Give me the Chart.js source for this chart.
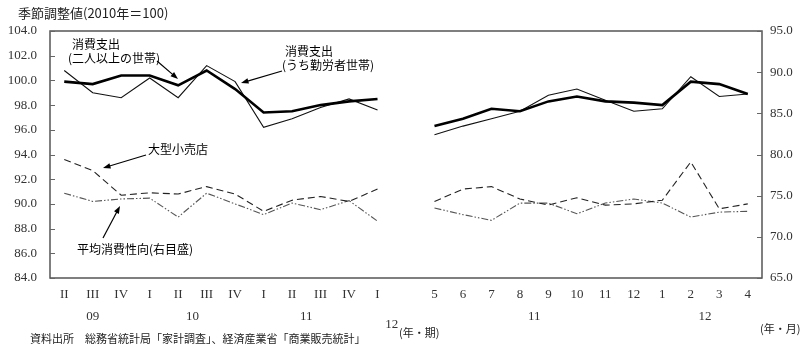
<!DOCTYPE html>
<html>
<head>
<meta charset="utf-8">
<script src="https://cdn.jsdelivr.net/npm/chart.js@4"></script>
<style>
  body { margin: 0; background: #fff; }
  #wrap { width: 800px; height: 350px; }
</style>
</head>
<body>
<div id="wrap"><canvas id="chart" width="800" height="350"></canvas></div>
<script>
// categories: 2009 II .. 2012 I (quarters), one blank slot, then 2011/5 .. 2012/4 (months)
const periodLabels = ['II', 'III', 'IV', 'I', 'II', 'III', 'IV', 'I', 'II', 'III', 'IV', 'I', '',
    '5', '6', '7', '8', '9', '10', '11', '12', '1', '2', '3', '4'];

// year labels, each centred over a range of category indexes
const yearLabels = ['09', '10', '11', '12', '11', '12'];
const yearFrom = [0, 3, 7, 11, 13, 21];
const yearTo = [2, 6, 10, 12, 20, 24];

const spendingAll = [99.9, 99.7, 100.4, 100.4, 99.6, 100.8, 99.3, 97.4, 97.5, 98.0, 98.3, 98.5, null,
    96.3, 96.9, 97.7, 97.5, 98.3, 98.7, 98.3, 98.2, 98.0, 99.9, 99.7, 98.9];
const spendingWorkers = [100.8, 99.0, 98.6, 100.2, 98.6, 101.2, 99.9, 96.2, 96.9, 97.8, 98.5, 97.6, null,
    95.6, 96.3, 96.9, 97.5, 98.8, 99.3, 98.4, 97.5, 97.7, 100.3, 98.7, 98.9];
const largeRetail = [93.6, 92.7, 90.7, 90.9, 90.8, 91.4, 90.8, 89.4, 90.3, 90.6, 90.2, 91.2, null,
    90.2, 91.2, 91.4, 90.4, 89.9, 90.5, 89.9, 90.0, 90.3, 93.4, 89.6, 90.0];
const propensity = [75.3, 74.3, 74.6, 74.7, 72.4, 75.3, 74.0, 72.7, 74.1, 73.3, 74.4, 71.9, null,
    73.5, 72.7, 72.0, 74.1, 74.1, 72.8, 74.1, 74.6, 74.1, 72.4, 73.0, 73.1];

const jpFont = '"Noto Sans CJK JP", sans-serif';
const numFont = '"Liberation Serif", "DejaVu Serif", serif';

function arrow(ctx, x1, y1, x2, y2) {
    const ang = Math.atan2(y2 - y1, x2 - x1);
    ctx.beginPath();
    ctx.moveTo(x1, y1);
    ctx.lineTo(x2 - 6 * Math.cos(ang), y2 - 6 * Math.sin(ang));
    ctx.stroke();
    ctx.beginPath();
    ctx.moveTo(x2, y2);
    ctx.lineTo(x2 - 8 * Math.cos(ang - 0.35), y2 - 8 * Math.sin(ang - 0.35));
    ctx.lineTo(x2 - 8 * Math.cos(ang + 0.35), y2 - 8 * Math.sin(ang + 0.35));
    ctx.closePath();
    ctx.fill();
}

const framePlugin = {
    id: 'frameAndNotes',
    afterDraw(chart) {
        const { ctx, chartArea: a, scales } = chart;
        ctx.save();

        // box around plot
        ctx.strokeStyle = '#555';
        ctx.lineWidth = 1.5;
        ctx.strokeRect(a.left, a.top, a.right - a.left, a.bottom - a.top);

        // short inward ticks
        ctx.lineWidth = 1;
        ctx.strokeStyle = '#666';
        scales.y.ticks.forEach(t => {
            const py = Math.round(scales.y.getPixelForValue(t.value)) + 0.5;
            ctx.beginPath(); ctx.moveTo(a.left, py); ctx.lineTo(a.left + 5, py); ctx.stroke();
        });
        scales.y1.ticks.forEach(t => {
            const py = Math.round(scales.y1.getPixelForValue(t.value)) + 0.5;
            ctx.beginPath(); ctx.moveTo(a.right - 5, py); ctx.lineTo(a.right, py); ctx.stroke();
        });

        // year row
        ctx.fillStyle = '#333';
        ctx.font = '13px ' + numFont;
        ctx.textAlign = 'center';
        ctx.textBaseline = 'middle';
        yearLabels.forEach((lab, i) => {
            const px = (scales.x.getPixelForValue(yearFrom[i]) + scales.x.getPixelForValue(yearTo[i])) / 2;
            ctx.fillText(lab, px, i === 3 ? 325 : 317);
        });

        // title, units, source
        ctx.fillStyle = '#222';
        ctx.textAlign = 'left';
        ctx.font = '13px ' + jpFont;
        ctx.fillText('季節調整値(2010年＝100)', 18, 13);
        ctx.font = '11px ' + jpFont;
        ctx.fillText('(年・期)', 399, 333);
        ctx.fillText('(年・月)', 760, 329);
        ctx.fillText('資料出所　総務省統計局「家計調査」、経済産業省「商業販売統計」', 30, 339);

        // series notes
        ctx.fillStyle = '#000';
        ctx.font = '12px ' + jpFont;
        ctx.fillText('消費支出', 72, 44);
        ctx.fillText('(二人以上の世帯)', 68, 58);
        ctx.fillText('消費支出', 285, 51);
        ctx.fillText('(うち勤労者世帯)', 282, 65);
        ctx.fillText('大型小売店', 148, 149);
        ctx.fillText('平均消費性向(右目盛)', 77, 249);

        ctx.strokeStyle = '#000';
        ctx.lineWidth = 1.2;
        arrow(ctx, 157, 61, 178, 79);
        arrow(ctx, 282, 71, 241, 83);
        arrow(ctx, 146, 155, 103, 168);
        arrow(ctx, 103, 238, 120, 206);

        ctx.restore();
    }
};

function makeChart() {
    const ctx = document.getElementById('chart').getContext('2d');
    return new Chart(ctx, {
        type: 'line',
        data: {
            labels: periodLabels,
            datasets: [{
                label: '消費支出（二人以上の世帯）',
                data: spendingAll,
                borderColor: '#000',
                borderWidth: 2.6,
                yAxisID: 'y'
            }, {
                label: '消費支出（うち勤労者世帯）',
                data: spendingWorkers,
                borderColor: '#111',
                borderWidth: 1.1,
                yAxisID: 'y'
            }, {
                label: '大型小売店',
                data: largeRetail,
                borderColor: '#222',
                borderWidth: 1.1,
                borderDash: [7, 4],
                yAxisID: 'y'
            }, {
                label: '平均消費性向（右目盛）',
                data: propensity,
                borderColor: '#555',
                borderWidth: 1.1,
                borderDash: [7, 2, 1.5, 2, 1.5, 2],
                yAxisID: 'y1'
            }]
        },
        options: {
            responsive: false,
            animation: false,
            layout: { padding: { top: 31, left: 0, right: 0, bottom: 0 } },
            elements: {
                point: { radius: 0 },
                line: { tension: 0, borderCapStyle: 'butt' }
            },
            plugins: {
                legend: { display: false },
                tooltip: { enabled: false }
            },
            scales: {
                x: {
                    offset: true,
                    grid: { display: false, drawTicks: false },
                    border: { display: false },
                    ticks: {
                        autoSkip: false,
                        maxRotation: 0,
                        padding: 9,
                        color: '#333',
                        font: { family: numFont, size: 13 }
                    },
                    afterFit(scale) { scale.height = 72; }
                },
                y: {
                    position: 'left',
                    min: 84,
                    max: 104,
                    grid: { display: false, drawTicks: false },
                    border: { display: false },
                    ticks: {
                        stepSize: 2,
                        padding: 13,
                        color: '#333',
                        font: { family: numFont, size: 13 },
                        callback: v => v.toFixed(1)
                    },
                    afterFit(scale) { scale.width = 50; }
                },
                y1: {
                    position: 'right',
                    min: 65,
                    max: 95,
                    grid: { display: false, drawTicks: false },
                    border: { display: false },
                    ticks: {
                        stepSize: 5,
                        padding: 8,
                        color: '#333',
                        font: { family: numFont, size: 13 },
                        callback: v => v.toFixed(1)
                    },
                    afterFit(scale) { scale.width = 38; }
                }
            }
        },
        plugins: [framePlugin]
    });
}

document.addEventListener('DOMContentLoaded', function() {
    makeChart();
});
</script>
</body>
</html>
